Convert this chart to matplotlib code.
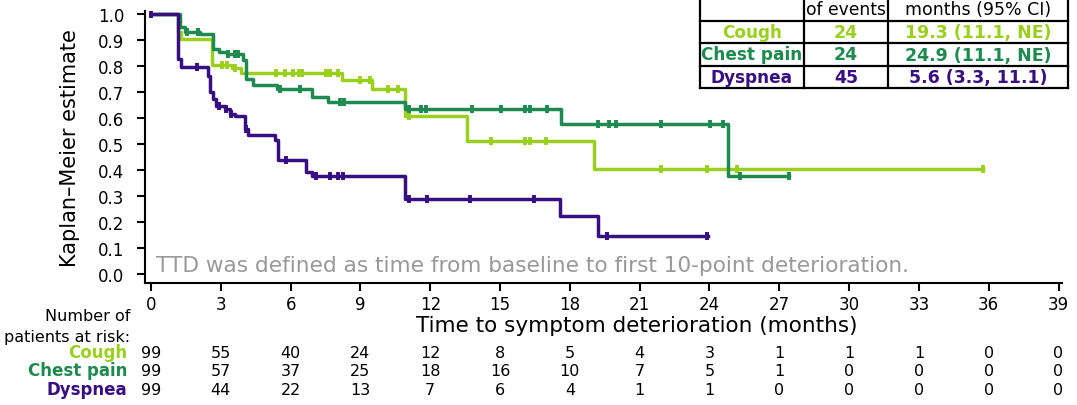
import matplotlib.pyplot as plt
import numpy as np

# Kaplan-Meier steps (time in months, survival)
cough_t = [0, 1.16, 1.3, 2.6, 3.5, 3.85, 8.2, 9.5, 10.9, 13.6, 19.05, 35.75]
cough_s = [1.0, 0.93, 0.904, 0.804, 0.79, 0.773, 0.744, 0.71, 0.607, 0.509, 0.404, 0.404]
cough_cens = [0, 3.03, 3.25, 3.6, 5.39, 5.75, 6.1, 6.37, 6.5, 7.54, 7.68, 8.04, 8.97, 9.4,
              10.2, 10.6, 11.1, 14.6, 16.05, 16.3, 16.98, 21.9, 23.9, 25.2, 35.75]

chest_t = [0, 1.24, 1.46, 2.1, 2.67, 2.9, 3.25, 3.95, 4.1, 4.38, 5.4, 6.9, 7.6, 10.9, 17.6, 24.8, 27.4]
chest_s = [1.0, 0.95, 0.93, 0.923, 0.865, 0.853, 0.846, 0.82, 0.75, 0.724, 0.71, 0.68, 0.66,
           0.635, 0.577, 0.378, 0.378]
chest_cens = [1.53, 2.0, 3.3, 3.6, 3.74, 5.53, 6.4, 8.1, 8.3, 11.1, 11.6, 11.8, 13.8, 15.05,
              16.05, 16.3, 17.0, 19.2, 19.7, 20.0, 21.9, 24.03, 24.56, 25.3, 27.4]

dysp_t = [0, 1.16, 1.3, 2.46, 2.55, 2.67, 2.8, 3.17, 3.4, 3.6, 4.03, 4.17, 5.32, 5.46, 6.68, 6.9,
          10.9, 17.58, 19.2, 23.95]
dysp_s = [1.0, 0.827, 0.795, 0.76, 0.7, 0.673, 0.646, 0.635, 0.615, 0.608, 0.558, 0.532, 0.513,
          0.436, 0.392, 0.378, 0.288, 0.224, 0.147, 0.147]
dysp_cens = [0, 1.96, 2.9, 3.2, 3.45, 4.1, 5.8, 7.1, 7.7, 8.04, 8.25, 11.1, 11.86, 13.7, 16.45,
             19.6, 23.9]

# at-risk table
risk_times = list(range(0, 40, 3))
cough_risk = [99, 55, 40, 24, 12, 8, 5, 4, 3, 1, 1, 1, 0, 0]
chest_risk = [99, 57, 37, 25, 18, 16, 10, 7, 5, 1, 0, 0, 0, 0]
dysp_risk = [99, 44, 22, 13, 7, 6, 4, 1, 1, 0, 0, 0, 0, 0]

labels = ["Cough", "Chest pain", "Dyspnea"]
colors = ["#9ACF1E", "#1F8A4F", "#370F80"]
n_events = ["24", "24", "45"]
medians = ["19.3 (11.1, NE)", "24.9 (11.1, NE)", "5.6 (3.3, 11.1)"]

W, H = 1077, 406
fig = plt.figure(figsize=(W / 100, H / 100), dpi=100)
ax = fig.add_axes([145 / W, 1 - 284 / H, 917 / W, 272 / H])

series = [(cough_t, cough_s, cough_cens), (chest_t, chest_s, chest_cens), (dysp_t, dysp_s, dysp_cens)]
for (t, s, cens), col in zip(series, colors):
    t = np.array(t)
    s = np.array(s)
    ax.step(t, s, where="post", color=col, lw=2.5, zorder=3)
    idx = np.searchsorted(t, cens, side="right") - 1
    ax.plot(cens, s[idx], ls="none", marker="|", ms=6, mew=2.8, color=col, zorder=4)

ax.set_xlim(-0.26, 39.15)
ax.set_ylim(-0.035, 1.01)
ax.set_xticks(risk_times)
ax.set_yticks(np.arange(0, 1.01, 0.1))
ax.set_yticklabels(["%.1f" % v for v in np.arange(0, 1.01, 0.1)])
ax.spines["top"].set_visible(False)
ax.spines["right"].set_visible(False)
for sp in ["left", "bottom"]:
    ax.spines[sp].set_linewidth(1.5)
ax.tick_params(axis="both", labelsize=12, width=1.5, length=6)
ax.tick_params(axis="y", pad=9)
ax.tick_params(axis="x", pad=3)

ax.set_ylabel("Kaplan\u2013Meier estimate", fontsize=15, labelpad=13)
ax.text(0.5363, -0.155, "Time to symptom deterioration (months)", transform=ax.transAxes,
        ha="center", va="center", fontsize=15.5)
ax.text(0.012, 0.068, "TTD was defined as time from baseline to first 10-point deterioration.",
        transform=ax.transAxes, ha="left", va="center", fontsize=15.6, color="#999999")

# number at risk
ax.text(-0.016, -0.118, "Number of", transform=ax.transAxes, ha="right", va="center", fontsize=11.5)
ax.text(-0.016, -0.195, "patients at risk:", transform=ax.transAxes, ha="right", va="center",
        fontsize=11.5)
row_y = [-0.254, -0.320, -0.390]
for lab, col, y, risk in zip(labels, colors, row_y, [cough_risk, chest_risk, dysp_risk]):
    ax.text(-0.019, y, lab, transform=ax.transAxes, ha="right", va="center",
            fontsize=12, fontweight="bold", color=col)
    for tm, n in zip(risk_times, risk):
        ax.text(tm, y, str(n), transform=ax.get_xaxis_transform(), ha="center", va="center",
                fontsize=11.5)

# summary table, top right (pixel overlay)
ov = fig.add_axes([0, 0, 1, 1], facecolor="none")
ov.set_xlim(0, W)
ov.set_ylim(H, 0)
ov.axis("off")
col_x = [700, 804, 888, 1068]
row_lines = [22, 44, 67, 89]
for x in col_x:
    ov.plot([x, x], [-5, row_lines[-1]], color="black", lw=1.6)
for y in row_lines:
    ov.plot([col_x[0], col_x[-1]], [y, y], color="black", lw=1.6)
ov.text((col_x[1] + col_x[2]) / 2, 10, "of events", ha="center", va="center", fontsize=12.3)
ov.text((col_x[2] + col_x[3]) / 2, 10, "months (95% CI)", ha="center", va="center", fontsize=12.5)
for i, (lab, col) in enumerate(zip(labels, colors)):
    yc = (row_lines[i] + row_lines[i + 1]) / 2
    ov.text((col_x[0] + col_x[1]) / 2, yc, lab, ha="center", va="center", fontsize=12.2,
            fontweight="bold", color=col)
    ov.text((col_x[1] + col_x[2]) / 2, yc, n_events[i], ha="center", va="center", fontsize=12.5,
            fontweight="bold", color=col)
    ov.text((col_x[2] + col_x[3]) / 2, yc, medians[i], ha="center", va="center", fontsize=12.5,
            fontweight="bold", color=col)

fig.savefig("out.png", dpi=100)
